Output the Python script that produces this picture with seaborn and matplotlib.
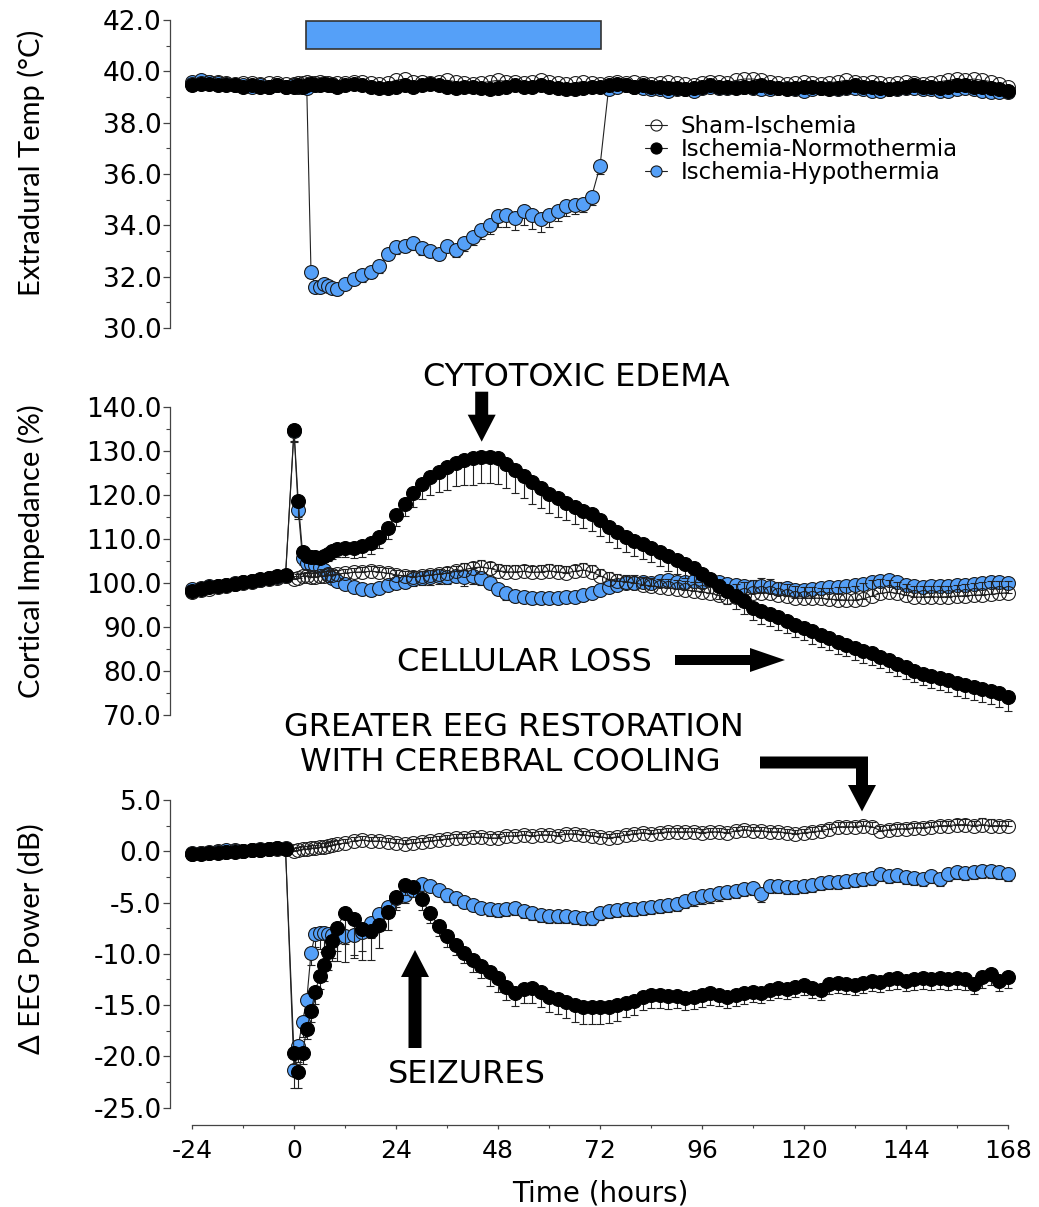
import numpy as np
import matplotlib
matplotlib.use("Agg")
import matplotlib.pyplot as plt
import seaborn as sns
from matplotlib.patches import Rectangle, FancyArrow, Polygon
from matplotlib.ticker import MultipleLocator, FormatStrFormatter

sns.set_theme(style="ticks")
plt.rcParams["font.family"] = ["DejaVu Sans"]
plt.rcParams["axes.unicode_minus"] = False
for key in ["text.color", "axes.labelcolor", "xtick.labelcolor", "ytick.labelcolor"]:
    plt.rcParams[key] = "black"

W, H = 1039, 1207
BLUE = "#55A0F8"
LABEL_FONT = ["Lato", "DejaVu Sans"]

# time grid (h): 2 h steps, hourly just after ischemia
hours = list(range(-24, 0, 2)) + list(range(0, 11)) + list(range(12, 169, 2))

groups = ["Sham-Ischemia", "Ischemia-Normothermia", "Ischemia-Hypothermia"]

# ---------- extradural temperature (°C) ----------
temp_sham = [
    39.50, 39.55, 39.60, 39.60, 39.55, 39.50, 39.55, 39.55, 39.50, 39.55, 39.55, 39.50,
    39.50, 39.55, 39.55, 39.60, 39.55, 39.55, 39.60, 39.55, 39.55, 39.50, 39.55,
    39.55, 39.60, 39.60, 39.55, 39.50, 39.55, 39.65, 39.70, 39.60, 39.60,
    39.55, 39.60, 39.65, 39.60, 39.55, 39.50, 39.55, 39.60, 39.65, 39.60,
    39.60, 39.55, 39.60, 39.65, 39.60, 39.55, 39.50, 39.55, 39.60, 39.55,
    39.50, 39.55, 39.60, 39.55, 39.60, 39.55, 39.50, 39.55, 39.60, 39.55,
    39.50, 39.45, 39.55, 39.60, 39.60, 39.55, 39.65, 39.70, 39.70, 39.65,
    39.60, 39.55, 39.50, 39.55, 39.60, 39.55, 39.50, 39.55, 39.60, 39.65,
    39.60, 39.55, 39.60, 39.55, 39.50, 39.55, 39.60, 39.55, 39.50, 39.55,
    39.60, 39.65, 39.70, 39.65, 39.70, 39.65, 39.60, 39.50, 39.40,
]
temp_norm = [
    39.45, 39.50, 39.50, 39.45, 39.45, 39.45, 39.40, 39.45, 39.40, 39.40, 39.45, 39.40,
    39.40, 39.45, 39.40, 39.45, 39.50, 39.45, 39.45, 39.50, 39.45, 39.45, 39.40,
    39.45, 39.50, 39.45, 39.40, 39.35, 39.35, 39.40, 39.45, 39.40, 39.45,
    39.50, 39.45, 39.40, 39.35, 39.40, 39.40, 39.35, 39.30, 39.35, 39.40,
    39.45, 39.40, 39.40, 39.45, 39.40, 39.35, 39.30, 39.30, 39.35, 39.40,
    39.40, 39.45, 39.50, 39.45, 39.40, 39.45, 39.40, 39.40, 39.35, 39.35,
    39.30, 39.35, 39.40, 39.45, 39.40, 39.40, 39.35, 39.40, 39.40, 39.45,
    39.40, 39.35, 39.30, 39.35, 39.40, 39.40, 39.35, 39.30, 39.35, 39.40,
    39.45, 39.40, 39.40, 39.35, 39.30, 39.35, 39.40, 39.45, 39.40, 39.40,
    39.35, 39.40, 39.45, 39.45, 39.40, 39.40, 39.35, 39.30, 39.25,
]
temp_hypo = [
    39.60, 39.65, 39.60, 39.55, 39.50, 39.45, 39.45, 39.40, 39.45, 39.40, 39.45, 39.40,
    39.45, 39.40, 39.40, 39.35, 32.20, 31.60, 31.60, 31.70, 31.65, 31.55, 31.50,
    31.70, 31.90, 32.05, 32.20, 32.40, 32.90, 33.15, 33.20, 33.30, 33.10,
    33.00, 32.90, 33.20, 33.05, 33.30, 33.55, 33.80, 34.00, 34.35, 34.40,
    34.30, 34.55, 34.40, 34.25, 34.40, 34.55, 34.75, 34.80, 34.85, 35.10,
    36.30, 39.30, 39.40, 39.45, 39.40, 39.35, 39.30, 39.30, 39.25, 39.30,
    39.30, 39.25, 39.35, 39.40, 39.35, 39.35, 39.40, 39.40, 39.35, 39.30,
    39.30, 39.35, 39.35, 39.30, 39.25, 39.30, 39.35, 39.35, 39.30, 39.35,
    39.35, 39.30, 39.25, 39.25, 39.30, 39.30, 39.35, 39.35, 39.30, 39.30,
    39.25, 39.25, 39.30, 39.35, 39.30, 39.25, 39.20, 39.20, 39.20,
]
temp_hypo_sem = [
    0.10, 0.10, 0.10, 0.10, 0.10, 0.10, 0.10, 0.10, 0.10, 0.10, 0.10, 0.10,
    0.10, 0.10, 0.10, 0.10, 0.25, 0.20, 0.20, 0.20, 0.20, 0.20, 0.20,
    0.20, 0.20, 0.25, 0.25, 0.25, 0.25, 0.25, 0.25, 0.25, 0.25,
    0.25, 0.25, 0.25, 0.30, 0.30, 0.30, 0.35, 0.35, 0.40, 0.45,
    0.50, 0.55, 0.55, 0.50, 0.45, 0.40, 0.40, 0.35, 0.35, 0.30,
    0.30, 0.10, 0.10, 0.10, 0.10, 0.10, 0.10, 0.10, 0.10, 0.10,
    0.10, 0.10, 0.10, 0.10, 0.10, 0.10, 0.10, 0.10, 0.10, 0.10,
    0.10, 0.10, 0.10, 0.10, 0.10, 0.10, 0.10, 0.10, 0.10, 0.10,
    0.10, 0.10, 0.10, 0.10, 0.10, 0.10, 0.10, 0.10, 0.10, 0.10,
    0.10, 0.10, 0.10, 0.10, 0.10, 0.10, 0.10, 0.10, 0.10,
]

# ---------- cortical impedance (%) ----------
imp_sham = [
    98.0, 98.3, 98.7, 99.0, 99.4, 99.7, 100.0, 100.3, 100.6, 100.9, 101.2, 101.5,
    100.8, 101.2, 101.5, 101.6, 101.4, 101.3, 101.5, 101.6, 101.8, 101.9, 102.0,
    102.2, 102.4, 102.5, 102.6, 102.5, 102.2, 101.8, 101.6, 101.4, 101.6,
    101.8, 102.0, 102.2, 102.6, 103.0, 103.4, 103.6, 103.3, 102.8, 102.5,
    102.5, 102.6, 102.4, 102.5, 102.7, 102.5, 102.3, 102.6, 102.9, 102.5,
    101.6, 100.8, 100.4, 100.3, 100.0, 99.6, 99.3, 99.1, 98.8, 98.6,
    98.4, 98.2, 98.0, 97.6, 97.2, 96.8, 96.9, 97.2, 97.6, 97.8,
    97.6, 97.3, 97.0, 96.6, 96.5, 96.6, 96.5, 96.3, 96.2, 96.1,
    96.1, 96.4, 97.0, 97.6, 97.9, 97.6, 97.2, 96.8, 96.8, 96.9,
    96.8, 96.9, 97.0, 97.1, 97.2, 97.3, 97.4, 97.6, 97.8,
]
imp_norm = [
    98.2, 98.6, 99.0, 99.3, 99.5, 99.8, 100.1, 100.4, 100.8, 101.2, 101.5, 101.7,
    134.8, 118.5, 107.0, 106.0, 105.8, 105.9, 105.7, 106.2, 106.5, 107.3, 107.8,
    108.0, 108.0, 108.3, 109.0, 110.5, 112.5, 115.5, 118.0, 120.3, 122.5,
    124.0, 125.2, 126.2, 127.3, 128.0, 128.3, 128.6, 128.6, 128.3, 127.0,
    125.6, 124.2, 122.8, 121.5, 120.2, 119.2, 118.2, 117.3, 116.3, 115.6,
    114.2, 112.7, 111.5, 110.5, 109.5, 108.8, 108.0, 107.0, 106.0, 105.2,
    104.3, 103.3, 102.0, 100.8, 99.4, 98.2, 97.0, 95.8, 94.4, 93.5,
    93.0, 92.2, 91.4, 90.5, 89.8, 89.0, 88.2, 87.4, 86.6, 86.0,
    85.3, 84.6, 84.0, 83.2, 82.4, 81.5, 80.8, 80.0, 79.4, 78.9,
    78.5, 78.0, 77.3, 76.8, 76.3, 75.9, 75.5, 75.0, 74.2,
]
imp_hypo = [
    98.5, 98.8, 99.2, 99.4, 99.6, 99.9, 100.1, 100.4, 100.7, 101.0, 101.3, 101.5,
    134.4, 116.6, 105.6, 104.4, 104.2, 104.0, 103.6, 102.9, 102.0, 101.2, 100.5,
    99.8, 99.1, 98.7, 98.3, 98.8, 99.5, 99.9, 100.3, 100.8, 101.2,
    101.4, 101.5, 101.4, 101.6, 101.3, 101.5, 101.2, 100.0, 98.6, 97.6,
    97.0, 96.7, 96.5, 96.5, 96.6, 96.5, 96.7, 96.9, 97.3, 97.8,
    98.4, 99.0, 99.5, 99.9, 100.0, 100.2, 100.0, 100.4, 100.6, 100.3,
    100.2, 100.5, 100.3, 100.6, 100.1, 99.8, 99.5, 99.3, 99.1, 99.3,
    99.0, 98.6, 98.8, 98.4, 98.3, 98.6, 98.9, 99.1, 99.0, 99.4,
    99.6, 99.8, 100.1, 100.4, 100.6, 100.2, 99.6, 99.3, 99.1, 99.2,
    99.3, 99.4, 99.5, 99.6, 99.8, 99.9, 100.2, 100.1, 100.0,
]
imp_sham_sem = [
    0.5, 0.5, 0.5, 0.5, 0.5, 0.5, 0.5, 0.5, 0.5, 0.5, 0.5, 0.5,
    0.8, 0.8, 0.8, 0.8, 0.8, 1.0, 1.0, 1.0, 1.0, 1.0, 1.0,
    1.0, 1.0, 1.2, 1.2, 1.2, 1.2, 1.2, 1.2, 1.2, 1.2,
    1.2, 1.2, 1.3, 1.3, 1.4, 1.4, 1.5, 1.5, 1.5, 1.5,
    1.5, 1.5, 1.5, 1.5, 1.5, 1.5, 1.5, 1.5, 1.5, 1.5,
    1.6, 1.6, 1.6, 1.6, 1.8, 1.8, 1.8, 1.8, 2.0, 2.0,
    2.0, 2.0, 2.2, 2.2, 2.4, 2.6, 2.8, 3.0, 3.0, 3.2,
    3.2, 3.0, 2.8, 2.6, 2.5, 2.4, 2.4, 2.6, 2.8, 3.0,
    3.2, 3.5, 3.6, 3.2, 2.8, 2.6, 2.5, 2.4, 2.4, 2.4,
    2.4, 2.5, 2.6, 2.6, 2.8, 3.0, 3.0, 2.8, 2.6,
]
imp_norm_sem = [
    0.4, 0.4, 0.4, 0.4, 0.4, 0.4, 0.4, 0.4, 0.4, 0.4, 0.4, 0.4,
    2.5, 3.5, 1.2, 1.0, 1.0, 1.0, 1.2, 1.4, 1.6, 1.8, 2.0,
    2.2, 2.4, 2.5, 2.5, 2.5, 2.6, 2.6, 2.8, 3.0, 3.4,
    4.0, 4.5, 5.0, 5.4, 5.8, 6.0, 6.0, 6.0, 5.8, 5.5,
    5.2, 5.0, 4.8, 4.6, 4.4, 4.2, 4.0, 4.0, 3.8, 3.8,
    3.6, 3.5, 3.5, 3.4, 3.4, 3.3, 3.3, 3.2, 3.2, 3.2,
    3.2, 3.1, 3.1, 3.0, 3.0, 3.0, 3.0, 2.9, 2.9, 2.9,
    2.9, 2.8, 2.8, 2.8, 2.8, 2.8, 2.7, 2.7, 2.7, 2.7,
    2.7, 2.7, 2.6, 2.6, 2.6, 2.6, 2.6, 2.6, 2.7, 2.7,
    2.8, 2.8, 2.9, 2.9, 3.0, 3.0, 3.1, 3.1, 3.2,
]
imp_hypo_sem = [
    0.4, 0.4, 0.4, 0.4, 0.4, 0.4, 0.4, 0.4, 0.4, 0.4, 0.4, 0.4,
    2.5, 2.0, 1.5, 1.2, 1.2, 1.0, 1.0, 1.0, 1.0, 1.0, 1.0,
    1.0, 1.0, 1.2, 1.2, 1.0, 1.0, 1.2, 1.4, 1.5, 1.6,
    1.8, 1.8, 1.6, 1.5, 2.0, 1.8, 1.6, 1.5, 1.4, 1.4,
    1.3, 1.3, 1.2, 1.2, 1.2, 1.1, 1.1, 1.0, 1.0, 1.0,
    1.0, 1.0, 1.0, 1.0, 1.0, 1.0, 1.0, 1.0, 1.0, 1.0,
    1.0, 1.0, 1.0, 1.0, 1.0, 1.0, 1.0, 1.0, 1.0, 1.0,
    1.0, 1.0, 1.0, 1.0, 1.0, 1.0, 1.0, 1.0, 1.0, 1.0,
    1.0, 1.0, 1.0, 1.0, 1.0, 1.0, 1.0, 1.0, 1.0, 1.0,
    1.0, 1.0, 1.0, 1.0, 1.0, 1.0, 1.0, 1.0, 1.0,
]

# ---------- delta EEG power (dB) ----------
eeg_sham = [
    -0.3, -0.2, -0.2, -0.1, -0.1, 0.0, 0.0, 0.1, 0.1, 0.2, 0.2, 0.2,
    0.0, 0.1, 0.2, 0.2, 0.3, 0.3, 0.4, 0.4, 0.5, 0.6, 0.7,
    0.8, 1.0, 1.1, 1.0, 1.0, 0.9, 0.8, 0.7, 0.8, 0.9,
    1.0, 1.1, 1.2, 1.3, 1.3, 1.4, 1.4, 1.3, 1.3, 1.5,
    1.5, 1.6, 1.5, 1.6, 1.6, 1.5, 1.7, 1.7, 1.6, 1.5,
    1.4, 1.3, 1.4, 1.6, 1.7, 1.8, 1.7, 1.8, 1.9, 1.9,
    1.9, 1.9, 1.8, 1.9, 1.9, 1.8, 2.0, 2.1, 2.0, 2.0,
    1.9, 1.9, 1.8, 1.7, 1.8, 1.9, 2.0, 2.2, 2.4, 2.4,
    2.4, 2.5, 2.4, 2.0, 2.1, 2.2, 2.2, 2.3, 2.3, 2.4,
    2.5, 2.5, 2.6, 2.6, 2.5, 2.6, 2.5, 2.5, 2.5,
]
eeg_norm = [
    -0.3, -0.3, -0.2, -0.2, -0.1, -0.1, 0.0, 0.1, 0.1, 0.2, 0.3, 0.2,
    -19.7, -21.5, -19.7, -17.3, -15.6, -13.7, -12.2, -11.1, -9.8, -8.7, -7.5,
    -6.0, -6.6, -7.6, -7.8, -7.2, -5.9, -4.5, -3.3, -3.5, -4.7,
    -6.0, -7.3, -8.3, -9.1, -9.9, -10.6, -11.2, -11.8, -12.4, -13.2,
    -13.8, -13.4, -13.3, -13.7, -14.2, -14.4, -14.7, -15.0, -15.2, -15.2,
    -15.2, -15.2, -15.0, -14.8, -14.6, -14.2, -14.0, -14.0, -14.1, -14.1,
    -14.3, -14.2, -14.0, -13.8, -14.0, -14.2, -14.0, -13.8, -13.7, -13.8,
    -13.5, -13.3, -13.4, -13.2, -13.0, -13.3, -13.5, -12.9, -12.8, -12.9,
    -13.0, -12.8, -12.6, -12.7, -12.5, -12.4, -12.6, -12.5, -12.4, -12.5,
    -12.4, -12.5, -12.4, -12.5, -12.9, -12.3, -12.0, -12.6, -12.3,
]
eeg_hypo = [
    -0.2, -0.2, -0.1, 0.0, 0.1, 0.1, 0.0, 0.1, 0.2, 0.2, 0.3, 0.3,
    -21.3, -19.0, -16.6, -14.5, -9.9, -8.1, -8.0, -8.0, -8.1, -8.2, -8.4,
    -8.3, -8.2, -7.9, -7.0, -6.1, -5.4, -4.6, -4.3, -3.8, -3.2,
    -3.4, -3.8, -4.3, -4.6, -4.9, -5.2, -5.5, -5.6, -5.7, -5.6,
    -5.5, -5.8, -6.0, -6.2, -6.3, -6.3, -6.3, -6.4, -6.5, -6.5,
    -6.0, -5.8, -5.7, -5.6, -5.6, -5.5, -5.4, -5.3, -5.2, -5.1,
    -4.8, -4.6, -4.4, -4.3, -4.1, -4.0, -3.9, -3.7, -3.6, -4.2,
    -3.4, -3.4, -3.5, -3.5, -3.4, -3.3, -3.1, -3.0, -3.0, -2.9,
    -2.8, -2.7, -2.6, -2.2, -2.4, -2.3, -2.5, -2.6, -2.7, -2.4,
    -2.7, -2.2, -2.0, -2.1, -2.0, -1.9, -1.9, -2.0, -2.2,
]
eeg_sham_sem = [
    0.3, 0.3, 0.3, 0.3, 0.3, 0.3, 0.3, 0.3, 0.3, 0.3, 0.3, 0.3,
    0.3, 0.3, 0.3, 0.3, 0.3, 0.3, 0.4, 0.4, 0.4, 0.4, 0.4,
    0.4, 0.4, 0.4, 0.4, 0.4, 0.4, 0.4, 0.4, 0.4, 0.4,
    0.4, 0.4, 0.4, 0.4, 0.4, 0.4, 0.4, 0.4, 0.4, 0.4,
    0.4, 0.4, 0.4, 0.4, 0.4, 0.4, 0.4, 0.4, 0.4, 0.4,
    0.4, 0.4, 0.4, 0.4, 0.4, 0.4, 0.4, 0.4, 0.4, 0.4,
    0.4, 0.4, 0.4, 0.4, 0.4, 0.4, 0.4, 0.4, 0.4, 0.4,
    0.4, 0.4, 0.4, 0.4, 0.4, 0.5, 0.5, 0.5, 0.5, 0.5,
    0.5, 0.5, 0.5, 0.5, 0.5, 0.5, 0.5, 0.5, 0.5, 0.5,
    0.5, 0.5, 0.5, 0.5, 0.5, 0.6, 0.6, 0.5, 0.5,
]
eeg_norm_sem = [
    0.3, 0.3, 0.3, 0.3, 0.3, 0.3, 0.3, 0.3, 0.3, 0.3, 0.3, 0.3,
    1.0, 1.6, 1.0, 1.0, 1.0, 1.2, 1.2, 1.5, 1.8, 2.0, 2.2,
    3.0, 3.5, 3.0, 2.8, 2.2, 1.8, 1.2, 1.0, 1.0, 1.0,
    1.0, 1.0, 1.0, 1.0, 1.0, 1.2, 1.2, 1.3, 1.3, 1.3,
    1.3, 1.4, 1.5, 1.5, 1.5, 1.5, 1.6, 1.6, 1.6, 1.6,
    1.6, 1.5, 1.5, 1.4, 1.4, 1.3, 1.3, 1.3, 1.3, 1.2,
    1.2, 1.2, 1.2, 1.2, 1.1, 1.1, 1.1, 1.1, 1.0, 1.0,
    1.0, 1.0, 1.0, 1.0, 1.0, 1.0, 1.0, 1.0, 1.0, 1.0,
    1.0, 1.0, 1.0, 1.0, 1.0, 1.0, 1.0, 1.0, 1.0, 1.0,
    1.0, 1.0, 1.0, 1.0, 1.0, 1.0, 1.0, 1.0, 1.0,
]
eeg_hypo_sem = [
    0.3, 0.3, 0.3, 0.3, 0.3, 0.3, 0.3, 0.3, 0.3, 0.3, 0.3, 0.3,
    1.8, 1.5, 1.5, 1.5, 1.2, 1.2, 1.5, 1.8, 2.0, 2.2, 2.3,
    2.5, 2.2, 1.8, 1.5, 1.2, 1.0, 0.8, 0.7, 0.6, 0.6,
    0.6, 0.6, 0.6, 0.6, 0.6, 0.6, 0.6, 0.7, 0.7, 0.7,
    0.7, 0.7, 0.7, 0.7, 0.7, 0.7, 0.7, 0.7, 0.7, 0.7,
    0.7, 0.7, 0.7, 0.7, 0.7, 0.7, 0.7, 0.7, 0.7, 0.7,
    0.7, 0.7, 0.7, 0.7, 0.7, 0.7, 0.7, 0.7, 0.7, 0.7,
    0.7, 0.7, 0.7, 0.7, 0.7, 0.7, 0.7, 0.7, 0.7, 0.7,
    0.7, 0.7, 0.7, 0.7, 0.7, 0.7, 0.7, 0.7, 0.7, 0.7,
    0.7, 0.7, 0.7, 0.7, 0.7, 0.7, 0.7, 0.7, 0.7,
]

styles = {
    "Sham-Ischemia": dict(mfc="none", mec="#1e1e1e", z=3, err="up"),
    "Ischemia-Normothermia": dict(mfc="black", mec="black", z=4, err="down"),
    "Ischemia-Hypothermia": dict(mfc=BLUE, mec="#1a1a1a", z=2, err="down"),
}

fig = plt.figure(figsize=(W / 100, H / 100), dpi=100)


def px_axes(left, top, right, bottom):
    return fig.add_axes([left / W, 1 - bottom / H, (right - left) / W, (bottom - top) / H])


def draw_panel(ax, values, sems):
    for g in groups:
        st = styles[g]
        y = np.array(values[g])
        if sems.get(g) is not None:
            s = np.array(sems[g])
            zero = np.zeros_like(s)
            yerr = [zero, s] if st["err"] == "up" else [s, zero]
            ax.errorbar(hours, y, yerr=yerr, fmt="none", ecolor="#222222",
                        elinewidth=0.8, capsize=3, capthick=0.8,
                        zorder=st["z"] - 0.5, clip_on=False)
        sns.lineplot(x=hours, y=y, ax=ax, estimator=None, errorbar=None, sort=False,
                     color="#222222", lw=0.8, marker="o", markersize=10,
                     markerfacecolor=st["mfc"], markeredgecolor=st["mec"],
                     markeredgewidth=0.8, zorder=st["z"], clip_on=False,
                     label=g, legend=False)


def style_axis(ax, lo, hi, step, minor):
    ax.set_xlim(-24 - 22 / 4.25, 168 + 2 / 4.25)
    ax.set_ylim(lo, hi)
    ax.set_yticks(np.arange(lo, hi + step / 2, step))
    ax.yaxis.set_minor_locator(MultipleLocator(minor))
    ax.yaxis.set_major_formatter(FormatStrFormatter("%.1f"))
    ax.tick_params(axis="y", which="major", length=5, width=0.9, pad=1,
                   labelsize=19, color="#444444", labelcolor="black")
    ax.tick_params(axis="y", which="minor", length=3, width=0.8, color="#444444")
    for side in ["top", "right"]:
        ax.spines[side].set_visible(False)
    ax.spines["left"].set_color("#444444")
    ax.spines["left"].set_linewidth(0.9)
    ax.set_xlabel("")
    ax.set_ylabel("")
    ax.set_facecolor("none")


ax1 = px_axes(170, 20, 1010, 328)
ax2 = px_axes(170, 406.7, 1010, 715)
ax3 = px_axes(170, 800, 1010, 1107.7)

draw_panel(ax1, {"Sham-Ischemia": temp_sham, "Ischemia-Normothermia": temp_norm,
                 "Ischemia-Hypothermia": temp_hypo},
           {"Ischemia-Hypothermia": temp_hypo_sem})
draw_panel(ax2, {"Sham-Ischemia": imp_sham, "Ischemia-Normothermia": imp_norm,
                 "Ischemia-Hypothermia": imp_hypo},
           {"Sham-Ischemia": imp_sham_sem, "Ischemia-Normothermia": imp_norm_sem,
            "Ischemia-Hypothermia": imp_hypo_sem})
draw_panel(ax3, {"Sham-Ischemia": eeg_sham, "Ischemia-Normothermia": eeg_norm,
                 "Ischemia-Hypothermia": eeg_hypo},
           {"Sham-Ischemia": eeg_sham_sem, "Ischemia-Normothermia": eeg_norm_sem,
            "Ischemia-Hypothermia": eeg_hypo_sem})

style_axis(ax1, 30, 42, 2, 1)
style_axis(ax2, 70, 140, 10, 5)
style_axis(ax3, -25, 5, 5, 2.5)

for ax in (ax1, ax2):
    ax.spines["bottom"].set_visible(False)
    ax.tick_params(axis="x", which="both", bottom=False, labelbottom=False)

ax3.spines["bottom"].set_position(("outward", 12.5))
ax3.spines["bottom"].set_bounds(-24, 168)
ax3.spines["bottom"].set_color("#444444")
ax3.spines["bottom"].set_linewidth(0.9)
ax3.set_xticks(range(-24, 169, 24))
ax3.xaxis.set_minor_locator(MultipleLocator(12))
ax3.tick_params(axis="x", which="major", length=3, width=0.9, pad=7,
                labelsize=18, color="#444444", labelcolor="black")
ax3.tick_params(axis="x", which="minor", length=2, width=0.8, color="#444444")
ax3.set_xlabel("Time (hours)", fontsize=20, color="black")
ax3.xaxis.set_label_coords((600 - 170) / 840, -0.232)

# y labels
for ax, text, yc in [(ax1, "Extradural Temp (°C)", 0.536),
                     (ax2, "Cortical Impedance (%)", 0.532),
                     (ax3, "\u0394 EEG Power (dB)", 0.551)]:
    ax.set_ylabel(text, fontsize=21, family=LABEL_FONT, color="black")
    ax.yaxis.set_label_coords((45 - 170) / 840, yc)

# hypothermia period bar
ax1.add_patch(Rectangle((2.8, 40.86), 69.4, 1.11, facecolor=BLUE,
                        edgecolor="#333333", lw=1.2, clip_on=False, zorder=5))

# legend
handles, labels = ax1.get_legend_handles_labels()
leg = ax1.legend(handles, labels, loc="upper left",
                 bbox_to_anchor=(645 / W, 1 - 115 / H), bbox_transform=fig.transFigure,
                 frameon=False, fontsize=16.5, handlelength=0.95, handletextpad=0.6,
                 labelspacing=0.0, borderpad=0, borderaxespad=0, markerscale=0.8)
for t in leg.get_texts():
    t.set_color("black")

# annotation layer in pixel coordinates
ov = fig.add_axes([0, 0, 1, 1])
ov.set_xlim(0, W)
ov.set_ylim(H, 0)
ov.axis("off")
ov.patch.set_alpha(0)

ann = dict(fontsize=23, ha="center", va="baseline", color="black")
ov.text(576, 374 + 11.6, "CYTOTOXIC EDEMA", **ann)
ov.text(524, 659 + 11.6, "CELLULAR LOSS", **ann)
ov.text(514, 724 + 11.6, "GREATER EEG RESTORATION", **ann)
ov.text(510, 759 + 11.6, "WITH CEREBRAL COOLING", **ann)
ov.text(467, 1071 + 11.6, "SEIZURES", **ann)

arrow = dict(length_includes_head=True, color="black", lw=0)
ov.add_patch(FancyArrow(481.7, 391.7, 0, 50, width=13, head_width=28, head_length=27, **arrow))
ov.add_patch(FancyArrow(675, 660, 110, 0, width=10, head_width=24, head_length=35, **arrow))
ov.add_patch(FancyArrow(415, 1048, 0, -98, width=13, head_width=28, head_length=27, **arrow))
ov.add_patch(Polygon([(760, 756.5), (868, 756.5), (868, 785), (876, 785), (862, 811.5),
                      (848, 785), (856, 785), (856, 768.5), (760, 768.5)],
                     closed=True, facecolor="black", edgecolor="none"))

fig.savefig("out.png", dpi=100)
